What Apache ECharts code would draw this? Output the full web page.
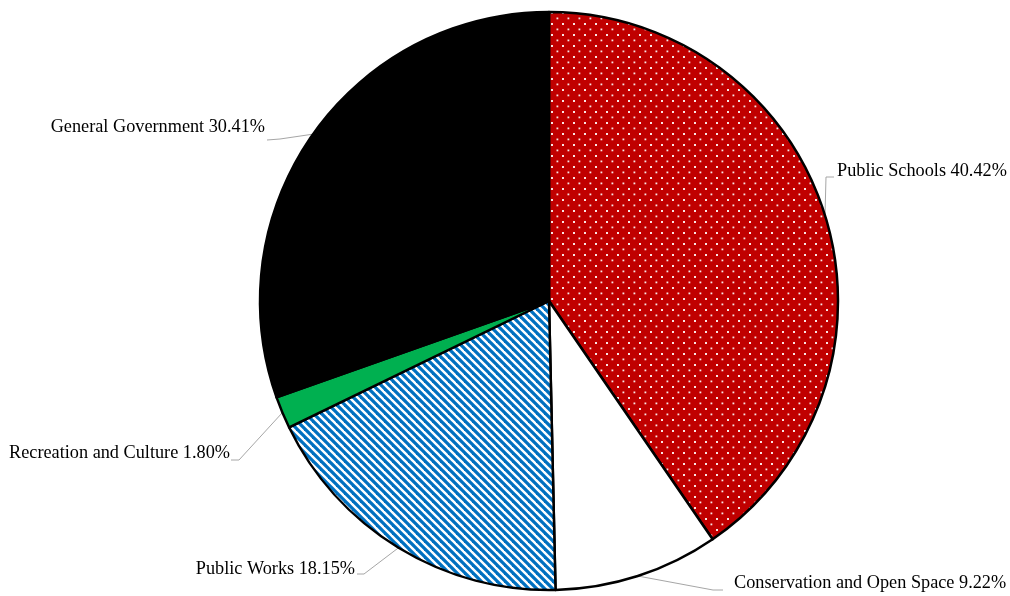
<!DOCTYPE html>
<html>
<head>
<meta charset="utf-8">
<script src="https://cdn.jsdelivr.net/npm/echarts@6/dist/echarts.min.js"></script>
<style>
  html, body { margin: 0; padding: 0; background: #fff; }
  #chart { width: 1010px; height: 596px; }
</style>
</head>
<body>
<div id="chart"></div>
<script>
// Budget share by function (percent)
const categories = [
  'Public Schools',
  'Conservation and Open Space',
  'Public Works',
  'Recreation and Culture',
  'General Government'
];
const shares = [40.42, 9.22, 18.15, 1.80, 30.41];

// Fill patterns
function dotPattern() {
  const c = document.createElement('canvas');
  c.width = 11; c.height = 11;
  const g = c.getContext('2d');
  g.fillStyle = '#C00000';
  g.fillRect(0, 0, 11, 11);
  g.fillStyle = 'rgba(255,255,255,0.9)';
  g.fillRect(1, 1, 2, 2);
  g.fillRect(6.5, 6.5, 1.8, 1.8);
  return c;
}
function stripePattern() {
  const s = 8;
  const c = document.createElement('canvas');
  c.width = s; c.height = s;
  const g = c.getContext('2d');
  g.fillStyle = '#0070C0';
  g.fillRect(0, 0, s, s);
  g.strokeStyle = '#ffffff';
  g.lineWidth = 2.4;
  for (let k = -1; k <= 1; k++) {
    g.beginPath();
    g.moveTo(k * s - 1, -1);
    g.lineTo(k * s + s + 1, s + 1);
    g.stroke();
  }
  return c;
}

const fills = [
  { image: dotPattern(), repeat: 'repeat' },
  '#ffffff',
  { image: stripePattern(), repeat: 'repeat' },
  '#00B050',
  '#000000'
];

// Where each label sits and how its leader line bends
const labelSpots = [
  { x: 837, y: 171, align: 'left',  elbow: [826, 177], end: [834, 177] },
  { x: 734, y: 583, align: 'left',  elbow: [713, 590], end: [723, 590] },
  { x: 355, y: 569, align: 'right', elbow: [364, 574], end: [357, 574] },
  { x: 230, y: 453, align: 'right', elbow: [239, 460], end: [231, 460] },
  { x: 265, y: 127, align: 'right', elbow: [280, 139], end: [267, 140] }
];

const chart = echarts.init(document.getElementById('chart'), null, { renderer: 'canvas' });

chart.setOption({
  backgroundColor: '#ffffff',
  animation: false,
  series: [{
    type: 'pie',
    center: [549, 301],
    radius: [0, 289],
    startAngle: 90,
    clockwise: true,
    avoidLabelOverlap: false,
    data: categories.map((name, i) => ({
      name,
      value: shares[i],
      itemStyle: { color: fills[i] }
    })),
    itemStyle: {
      borderColor: '#000000',
      borderWidth: 2.5
    },
    label: {
      show: true,
      formatter: p => p.name + ' ' + p.value.toFixed(2) + '%',
      fontFamily: '"Liberation Serif", "Times New Roman", serif',
      fontSize: 18.25,
      color: '#000000'
    },
    labelLine: {
      show: true,
      length: 20,
      length2: 10,
      lineStyle: { color: '#A6A6A6', width: 1 }
    },
    labelLayout: function (params) {
      const spot = labelSpots[params.dataIndex];
      const start = params.labelLinePoints ? params.labelLinePoints[0] : spot.elbow;
      return {
        x: spot.x,
        y: spot.y,
        align: spot.align,
        verticalAlign: 'middle',
        labelLinePoints: [start, spot.elbow, spot.end]
      };
    }
  }]
});
</script>
</body>
</html>
